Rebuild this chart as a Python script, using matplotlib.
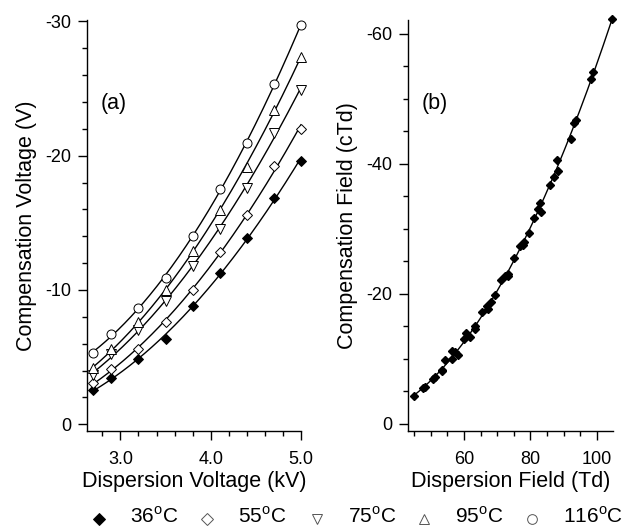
import numpy as np
import matplotlib.pyplot as plt
from matplotlib.ticker import MultipleLocator
from matplotlib.lines import Line2D

plt.rcParams['font.family'] = ['Liberation Sans', 'DejaVu Sans']
plt.rcParams['font.size'] = 13
plt.rcParams['axes.unicode_minus'] = False
plt.rcParams['mathtext.fontset'] = 'custom'
plt.rcParams['mathtext.rm'] = 'Liberation Sans'

# data - panel (a): compensation voltage vs dispersion voltage
disp_voltage = [2.7, 2.9, 3.2, 3.5, 3.8, 4.1, 4.4, 4.7, 5.0]
cv_36 = [-2.58, -3.42, -4.84, -6.38, -8.81, -11.24, -13.87, -16.85, -19.63]
cv_55 = [-3.08, -4.10, -5.61, -7.60, -10.0, -12.86, -15.56, -19.23, -22.0]
cv_75 = [-3.70, -5.21, -7.00, -9.18, -11.79, -14.57, -17.62, -21.69, -24.92]
cv_95 = [-4.19, -5.58, -7.62, -10.0, -12.9, -15.99, -19.16, -23.38, -27.35]
cv_116 = [-5.34, -6.70, -8.69, -10.87, -14.0, -17.55, -20.95, -25.31, -29.71]

# data - panel (b): compensation field vs dispersion field
df_36 = [44.9, 48.2, 53.2, 58.2, 63.2, 68.2, 73.2, 78.1, 83.1]
cf_36 = [-4.29, -5.69, -8.05, -10.61, -14.65, -18.69, -23.06, -28.01, -32.64]
df_55 = [47.7, 51.2, 56.5, 61.8, 67.1, 72.4, 77.7, 83.0, 88.2]
cf_55 = [-5.44, -7.24, -9.90, -13.41, -17.65, -22.70, -27.46, -33.94, -38.83]
df_75 = [50.6, 54.3, 59.9, 65.5, 71.2, 76.8, 82.4, 88.0, 93.6]
cf_75 = [-6.93, -9.76, -13.11, -17.19, -22.08, -27.28, -32.99, -40.61, -46.66]
df_95 = [53.5, 57.4, 63.4, 69.3, 75.2, 81.2, 87.1, 93.1, 99.0]
cf_95 = [-8.30, -11.05, -15.09, -19.80, -25.54, -31.66, -37.94, -46.29, -54.15]
df_116 = [56.5, 60.7, 67.0, 73.3, 79.5, 85.8, 92.1, 98.4, 104.65]
cf_116 = [-11.18, -14.02, -18.19, -22.75, -29.30, -36.73, -43.85, -52.97, -62.18]

labels = ["36$^{\\mathrm{o}}$C", "55$^{\\mathrm{o}}$C", "75$^{\\mathrm{o}}$C",
          "95$^{\\mathrm{o}}$C", "116$^{\\mathrm{o}}$C"]
markers = ['D', 'D', 'v', '^', 'o']
fills = ['black', 'white', 'white', 'white', 'white']

W, H = 624, 529
fig = plt.figure(figsize=(W / 100, H / 100), dpi=100)
ax1 = fig.add_axes([87/W, 98/H, 214/W, 411/H])
ax2 = fig.add_axes([408/W, 98/H, 205/W, 411/H])

big = 15.5


def style_axis(ax):
    for s in ['top', 'right']:
        ax.spines[s].set_visible(False)
    for s in ['left', 'bottom']:
        ax.spines[s].set_linewidth(1.0)
    ax.tick_params(which='major', direction='out', length=6.5, width=1.0, labelsize=13)
    ax.tick_params(which='minor', direction='out', length=3.5, width=1.0)
    ax.tick_params(axis='x', which='major', pad=8)
    ax.tick_params(axis='y', which='major', pad=5)


# panel (a)
cv_all = [cv_36, cv_55, cv_75, cv_95, cv_116]
xfit = np.linspace(disp_voltage[0], disp_voltage[-1], 200)
for cv, m, fc in zip(cv_all, markers, fills):
    coef = np.polyfit(disp_voltage, cv, 2)
    ax1.plot(xfit, np.polyval(coef, xfit), color='black', lw=1.0, zorder=2)
    ms = 5 if m == 'D' else 6.5
    ax1.plot(disp_voltage, cv, ls='none', marker=m, ms=ms, mfc=fc, mec='black',
             mew=0.7, zorder=3, clip_on=False)

ax1.set_xlim(2.63, 5.0)
ax1.set_ylim(0.5, -30.1)
ax1.xaxis.set_major_locator(MultipleLocator(1.0))
ax1.xaxis.set_minor_locator(MultipleLocator(0.2))
ax1.yaxis.set_major_locator(MultipleLocator(10))
ax1.yaxis.set_minor_locator(MultipleLocator(2))
ax1.xaxis.set_major_formatter(plt.FormatStrFormatter('%.1f'))
style_axis(ax1)
ax1.set_xlabel("Dispersion Voltage (kV)", fontsize=big, labelpad=2)
ax1.set_ylabel("Compensation Voltage (V)", fontsize=big, labelpad=6)
fig.text(101 / W, 1 - 103 / H, "(a)", fontsize=big, va='center', ha='left')

# panel (b)
df_all = np.concatenate([df_36, df_55, df_75, df_95, df_116])
cf_all = np.concatenate([cf_36, cf_55, cf_75, cf_95, cf_116])
coef_b = np.polyfit(df_all, cf_all, 2)
xfit_b = np.linspace(df_all.min(), df_all.max(), 200)
ax2.plot(xfit_b, np.polyval(coef_b, xfit_b), color='black', lw=1.0, zorder=2)
ax2.plot(df_all, cf_all, ls='none', marker='D', ms=4.5, mfc='black', mec='black',
         zorder=3, clip_on=False)

ax2.set_xlim(43.1, 104.9)
ax2.set_ylim(1.1, -62.1)
ax2.xaxis.set_major_locator(MultipleLocator(20))
ax2.xaxis.set_minor_locator(MultipleLocator(5))
ax2.yaxis.set_major_locator(MultipleLocator(20))
ax2.yaxis.set_minor_locator(MultipleLocator(5))
style_axis(ax2)
ax2.set_xlabel("Dispersion Field (Td)", fontsize=big, labelpad=2)
ax2.set_ylabel("Compensation Field (cTd)", fontsize=big, labelpad=6)
fig.text(422 / W, 1 - 103 / H, "(b)", fontsize=big, va='center', ha='left')

# legend row at bottom
leg_x = [99, 207, 317, 424, 532]
for x, lab, m, fc in zip(leg_x, labels, markers, fills):
    ms = 6 if m == 'D' else 7
    edge = 'black' if fc == 'black' else '#555555'
    fig.add_artist(Line2D([x / W], [1 - 519 / H], transform=fig.transFigure,
                          ls='none', marker=m, ms=ms, mfc=fc, mec=edge, mew=0.7))
    fig.text((x + 31) / W, 1 - 516 / H, lab, ha='left', va='center', fontsize=15)

fig.savefig("out.png", dpi=100)
